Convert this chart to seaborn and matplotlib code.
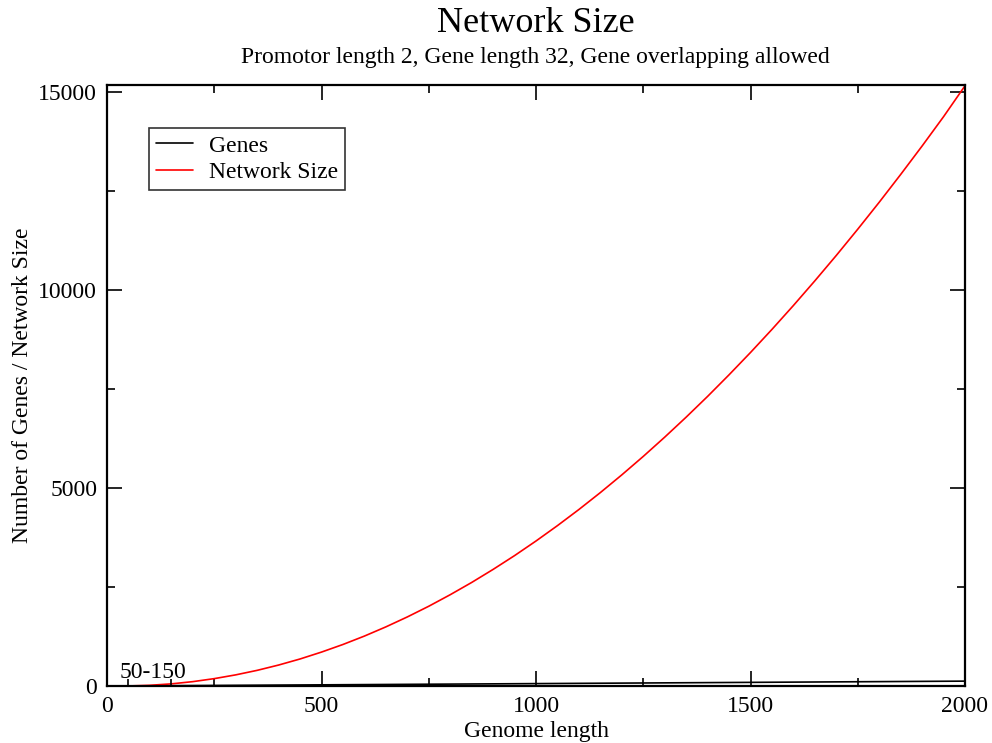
import matplotlib
matplotlib.use("Agg")
import matplotlib.pyplot as plt
import seaborn as sns
import pandas as pd
from matplotlib.ticker import MultipleLocator

genome_length = [50, 100, 150, 200, 250, 300, 350, 400, 450, 500,
                 550, 600, 650, 700, 750, 800, 850, 900, 950, 1000,
                 1050, 1100, 1150, 1200, 1250, 1300, 1350, 1400, 1450, 1500,
                 1550, 1600, 1650, 1700, 1750, 1800, 1850, 1900, 1950, 2000]
genes = [1.1, 4.3, 7.4, 10.5, 13.6, 16.8, 19.9, 23.0, 26.1, 29.3,
         32.4, 35.5, 38.6, 41.8, 44.9, 48.0, 51.1, 54.3, 57.4, 60.5,
         63.6, 66.8, 69.9, 73.0, 76.1, 79.3, 82.4, 85.5, 88.6, 91.8,
         94.9, 98.0, 101.1, 104.3, 107.4, 110.5, 113.6, 116.8, 119.9, 123.0]
network_size = [1, 18, 54, 110, 186, 281, 395, 529, 682, 856,
                1048, 1260, 1492, 1743, 2013, 2304, 2613, 2943, 3291, 3660,
                4048, 4455, 4882, 5329, 5795, 6281, 6786, 7310, 7855, 8418,
                9001, 9604, 10227, 10868, 11530, 12210, 12911, 13630, 14370, 15150]
range_marks = [50, 150]
range_label = "50-150"

sns.set_theme(style="white")
plt.rcParams["font.family"] = ["Liberation Serif", "DejaVu Serif"]
plt.rcParams["text.color"] = "black"
plt.rcParams["axes.labelcolor"] = "black"
plt.rcParams["xtick.color"] = "black"
plt.rcParams["ytick.color"] = "black"

df = pd.DataFrame({
    "Genome length": genome_length * 2,
    "value": genes + network_size,
    "series": ["Genes"] * len(genes) + ["Network Size"] * len(network_size),
})

fig = plt.figure(figsize=(9.92, 7.43), dpi=100)
ax = fig.add_axes([107 / 992, 1 - 686 / 743, (965 - 107) / 992, (686 - 85) / 743])

sns.lineplot(data=df, x="Genome length", y="value", hue="series",
             palette={"Genes": "black", "Network Size": "red"},
             linewidth=1.2, ax=ax, legend=True)

ax.set_xlim(0, 2000)
ax.set_ylim(0, 15170)
ax.xaxis.set_major_locator(MultipleLocator(500))
ax.xaxis.set_minor_locator(MultipleLocator(250))
ax.yaxis.set_major_locator(MultipleLocator(5000))
ax.yaxis.set_minor_locator(MultipleLocator(2500))
ax.tick_params(which="both", direction="in", top=True, right=True,
               bottom=True, left=True, color="black", width=1.2)
ax.tick_params(which="major", length=11, labelsize=17, pad=7)
ax.tick_params(which="minor", length=5.5)
for s in ax.spines.values():
    s.set_color("black")
    s.set_linewidth(1.6)

ax.vlines(range_marks, 0, 0.011, transform=ax.get_xaxis_transform(),
          color="black", linewidth=1.2)
ax.text(30, 200, range_label, fontsize=17, ha="left", va="baseline")

ax.set_xlabel("Genome length", fontsize=17, labelpad=3)
ax.set_ylabel("Number of Genes / Network Size", fontsize=17, labelpad=4)

fig.text(0.540, 0.957, "Network Size", fontsize=26, ha="center", va="baseline")
fig.text(0.540, 0.915, "Promotor length 2, Gene length 32, Gene overlapping allowed",
         fontsize=17, ha="center", va="baseline")

leg = ax.legend(loc="upper left", bbox_to_anchor=(42 / 858, 1 - 43 / 601),
                fontsize=17, frameon=True, fancybox=False, edgecolor="black",
                handlelength=1.55, borderpad=0.3, labelspacing=0.2,
                handletextpad=0.7, borderaxespad=0)
leg.get_frame().set_linewidth(1.2)
leg.set_title(None)
for t in leg.get_texts():
    t.set_color("black")

fig.savefig("out.png", dpi=100)
